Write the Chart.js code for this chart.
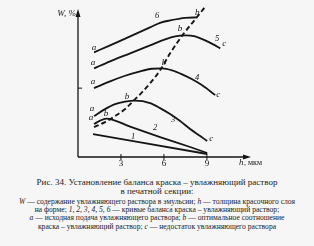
<!DOCTYPE html>
<html>
<head>
<meta charset="utf-8">
<script src="https://cdn.jsdelivr.net/npm/chart.js@4"></script>
<style>
  body { margin: 0; background: #f6f6f6; width: 314px; height: 246px; overflow: hidden; position: relative; }
  #wrap { position: absolute; left: 0; top: 0; width: 314px; height: 170px; }
  .cap { position: absolute; left: 0; width: 314px; text-align: center; font-family: "Liberation Serif", serif; color: #222; white-space: nowrap; }
  .big { font-size: 9px; }
  .small { font-size: 7.6px; }
  i { font-style: italic; }
</style>
</head>
<body>
<div id="wrap"><canvas id="chart" width="314" height="170"></canvas></div>
<div class="cap big" style="top:177px">Рис. 34. Установление баланса краска – увлажняющий раствор</div>
<div class="cap big" style="top:186px">в печатной секции:</div>
<div class="cap small" style="top:197px"><i>W</i> — содержание увлажняющего раствора в эмульсии; <i>h</i> — толщина красочного слоя</div>
<div class="cap small" style="top:205px">на форме; <i>1, 2, 3, 4, 5, 6</i> — кривые баланса краска – увлажняющий раствор;</div>
<div class="cap small" style="top:213px"><i>a</i> — исходная подача увлажняющего раствора; <i>b</i> — оптимальное соотношение</div>
<div class="cap small" style="top:222px">краска – увлажняющий раствор; <i>c</i> — недостаток увлажняющего раствора</div>
<script>
// thickness h, мкм (x) and moisture W (y, arbitrary units)
const curve1X = [1.05, 9.02];
const curve1Y = [1.61, 0.21];
const curve2X = [1.12, 1.54, 1.96, 3.64, 5.73, 7.83, 9.02];
const curve2Y = [2.31, 2.55, 2.69, 2.13, 1.40, 0.70, 0.28];
const curve3X = [1.12, 1.89, 2.59, 3.29, 3.99, 5.03, 5.73, 6.43, 7.13, 7.83, 8.53, 9.02];
const curve3Y = [2.87, 3.36, 3.71, 3.88, 3.95, 3.78, 3.43, 3.01, 2.52, 1.96, 1.47, 1.12];
const curve4X = [1.12, 2.24, 3.29, 4.34, 5.17, 5.87, 6.57, 7.27, 7.97, 8.67, 9.58];
const curve4Y = [4.83, 5.31, 5.70, 6.01, 6.19, 6.22, 6.08, 5.80, 5.45, 5.03, 4.34];
const curve5X = [1.12, 2.24, 3.64, 5.03, 6.08, 6.78, 7.48, 8.18, 8.88, 9.44, 9.93];
const curve5Y = [6.22, 6.71, 7.27, 7.83, 8.25, 8.46, 8.53, 8.46, 8.18, 7.90, 7.62];
const curve6X = [1.12, 2.24, 3.64, 5.03, 5.73, 6.43, 7.48, 8.32];
const curve6Y = [7.34, 7.83, 8.46, 9.09, 9.41, 9.58, 9.76, 9.79];
const optimumX = [1.12, 1.89, 2.59, 3.29, 3.85, 4.48, 5.03, 5.73, 6.43, 7.34, 8.18, 8.95];
const optimumY = [2.10, 2.45, 2.87, 3.36, 3.92, 4.55, 5.17, 6.08, 7.27, 8.60, 9.65, 10.63];

const xTicks = [3, 6, 9];
const yTicks = [4.83];

// curve marks: text, x, y
const marks = [
  ['a', 1.12, 7.69], ['6', 5.52, 9.93], ['b', 8.32, 10.14],
  ['a', 1.05, 6.64], ['b', 7.13, 9.02], ['5', 9.72, 8.32], ['c', 10.21, 7.97],
  ['a', 1.05, 5.31], ['b', 6.01, 6.64], ['4', 8.32, 5.59], ['c', 9.79, 4.34],
  ['a', 0.98, 3.36], ['b', 3.43, 4.20], ['3', 6.64, 2.59], ['c', 9.30, 1.26],
  ['a', 0.91, 2.73], ['b', 1.96, 3.01], ['2', 5.38, 2.03],
  ['1', 3.85, 1.40]
];

const pts = (xs, ys) => xs.map((x, i) => ({x: x, y: ys[i]}));
const solid = (xs, ys) => ({
  data: pts(xs, ys), borderColor: '#151515', borderWidth: 1.8,
  pointRadius: 0, tension: 0.4, cubicInterpolationMode: 'monotone', clip: false
});

const axesPlugin = {
  id: 'axesPlugin',
  afterDraw(chart) {
    const c = chart.ctx, xs = chart.scales.x, ys = chart.scales.y;
    const x0 = xs.getPixelForValue(0), y0 = ys.getPixelForValue(0);
    const xEnd = xs.getPixelForValue(xs.max), yTop = ys.getPixelForValue(ys.max);
    c.save();
    c.strokeStyle = '#151515'; c.fillStyle = '#151515'; c.lineWidth = 1.3;
    c.beginPath();
    c.moveTo(x0, y0); c.lineTo(xEnd, y0);
    c.moveTo(x0, y0); c.lineTo(x0, yTop);
    c.stroke();
    // arrows
    c.beginPath();
    c.moveTo(xEnd + 4, y0); c.lineTo(xEnd - 4, y0 - 2.5); c.lineTo(xEnd - 4, y0 + 2.5); c.closePath();
    c.moveTo(x0, yTop - 4); c.lineTo(x0 - 2.5, yTop + 4); c.lineTo(x0 + 2.5, yTop + 4); c.closePath();
    c.fill();
    // ticks
    c.lineWidth = 1;
    c.font = '9px "Liberation Serif", serif';
    c.textAlign = 'center'; c.textBaseline = 'middle';
    xTicks.forEach(t => {
      const px = xs.getPixelForValue(t);
      c.beginPath(); c.moveTo(px, y0 - 3); c.lineTo(px, y0 + 3); c.stroke();
      c.fillText(String(t), px, y0 + 7);
    });
    yTicks.forEach(t => {
      const py = ys.getPixelForValue(t);
      c.beginPath(); c.moveTo(x0, py); c.lineTo(x0 + 4, py); c.stroke();
    });
    // axis titles
    c.font = 'italic 9px "Liberation Serif", serif';
    c.textAlign = 'right';
    c.fillText('W, %', x0 - 2, yTop + 1);
    c.textAlign = 'left';
    c.fillText('h', xEnd - 8, y0 + 6);
    c.font = '8px "Liberation Serif", serif';
    c.fillText(', мкм', xEnd - 3, y0 + 6);
    // curve marks
    c.textAlign = 'center';
    marks.forEach(m => {
      c.font = (isNaN(+m[0]) ? 'italic 9px' : 'italic 8.5px') + ' "Liberation Serif", serif';
      c.fillText(m[0], xs.getPixelForValue(m[1]), ys.getPixelForValue(m[2]));
    });
    c.restore();
  }
};

new Chart(document.getElementById('chart').getContext('2d'), {
  type: 'line',
  data: {
    datasets: [
      solid(curve1X, curve1Y),
      solid(curve2X, curve2Y),
      solid(curve3X, curve3Y),
      solid(curve4X, curve4Y),
      solid(curve5X, curve5Y),
      solid(curve6X, curve6Y),
      Object.assign(solid(optimumX, optimumY), {borderDash: [5, 3], borderWidth: 1.9})
    ]
  },
  options: {
    responsive: false,
    animation: false,
    layout: { padding: { left: 78, right: 67, top: 13, bottom: 13 } },
    plugins: { legend: { display: false }, tooltip: { enabled: false } },
    scales: {
      x: { type: 'linear', min: 0, max: 11.8, display: false },
      y: { type: 'linear', min: 0, max: 10.1, display: false }
    }
  },
  plugins: [axesPlugin]
});
</script>
</body>
</html>
